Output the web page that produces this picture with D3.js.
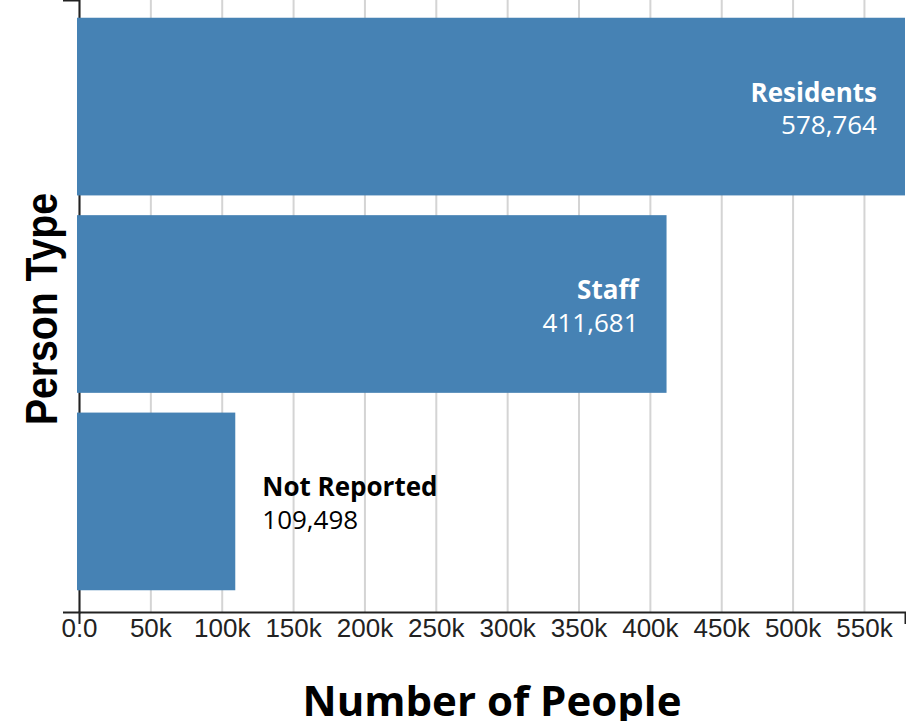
<!DOCTYPE html>
<html>
<head>
<meta charset="utf-8">
<script src="https://cdn.jsdelivr.net/npm/d3@7"></script>
<style>
  html, body { margin: 0; padding: 0; background: #fff; }
  svg { display: block; }
</style>
</head>
<body>
<svg id="chart" width="906" height="721"></svg>
<script>
// ---- Data ----
const categories = ["Residents", "Staff", "Not Reported"];
const values = [578764, 411681, 109498];
const tickValues = [0, 50000, 100000, 150000, 200000, 250000, 300000, 350000, 400000, 450000, 500000, 550000];
const tickLabels = ["0.0", "50k", "100k", "150k", "200k", "250k", "300k", "350k", "400k", "450k", "500k", "550k"];
const xTitle = "Number of People";
const yTitle = "Person Type";

// ---- Layout ----
const svg = d3.select("#chart");
const left = 79, right = 905, axisY = 612;

const x = d3.scaleLinear().domain([0, d3.max(values)]).range([left, right]);
const y = d3.scaleBand().domain(categories).range([-2, 610]).paddingInner(0.1).paddingOuter(0.1);

// gridlines
svg.append("g")
  .attr("transform", `translate(0,${axisY})`)
  .call(d3.axisBottom(x).tickValues(tickValues).tickSize(-axisY).tickSizeOuter(0).tickFormat(""))
  .call(g => g.select(".domain").remove())
  .call(g => g.selectAll(".tick line").attr("stroke", "#d4d4d4").attr("stroke-width", 2));

// y axis
svg.append("g")
  .attr("transform", `translate(${left},0)`)
  .call(d3.axisLeft(d3.scaleLinear().range([0, axisY])).ticks(0).tickSizeOuter(16))
  .call(g => g.select(".domain").attr("stroke", "#222").attr("stroke-width", 2));

// x axis
const labelMap = new Map(tickValues.map((v, i) => [v, tickLabels[i]]));
svg.append("g")
  .attr("transform", `translate(0,${axisY})`)
  .call(d3.axisBottom(x).tickValues(tickValues).tickSize(0).tickSizeOuter(12).tickPadding(7)
        .tickFormat(d => labelMap.get(d)))
  .call(g => g.select(".domain").attr("stroke", "#222").attr("stroke-width", 2))
  .call(g => g.selectAll(".tick text")
        .attr("font-family", "'Liberation Sans', Arial, sans-serif")
        .attr("font-size", 26).attr("fill", "#222"));

// bars
const data = categories.map((c, i) => ({ c, v: values[i] }));
svg.append("g").selectAll("rect").data(data).join("rect")
  .attr("x", x(0) - 2)
  .attr("y", d => y(d.c))
  .attr("width", d => x(d.v) - x(0) + 2)
  .attr("height", y.bandwidth())
  .attr("fill", "#4682b4");

// labels
const fmt = d3.format(",");
svg.append("g").selectAll("g").data(data).join("g")
  .attr("font-family", "'Open Sans', sans-serif")
  .attr("font-size", 26)
  .each(function(d) {
    const inside = (x(d.v) - x(0)) > 200;
    const g = d3.select(this);
    const cy = y(d.c) + y.bandwidth() / 2;
    const tx = inside ? x(d.v) - 28 : x(d.v) + 27;
    const anchor = inside ? "end" : "start";
    const fill = inside ? "#fff" : "#000";
    g.append("text").attr("x", tx).attr("y", cy - 5).attr("text-anchor", anchor)
      .attr("font-weight", "bold").attr("fill", fill).text(d.c);
    g.append("text").attr("x", tx).attr("y", cy + 27.5).attr("text-anchor", anchor)
      .attr("fill", fill).text(fmt(d.v));
  });

// axis titles
svg.append("text")
  .attr("x", (left + right) / 2).attr("y", 716)
  .attr("text-anchor", "middle")
  .attr("font-family", "'Open Sans', sans-serif")
  .attr("font-weight", "bold").attr("font-size", 42).attr("fill", "#000")
  .text(xTitle);

svg.append("text")
  .attr("transform", `translate(56.5,${309}) rotate(-90)`)
  .attr("text-anchor", "middle")
  .attr("font-family", "'Liberation Sans', Arial, sans-serif")
  .attr("font-weight", "bold").attr("font-size", 45).attr("fill", "#000")
  .attr("textLength", 232).attr("lengthAdjust", "spacingAndGlyphs")
  .text(yTitle);
</script>
</body>
</html>
